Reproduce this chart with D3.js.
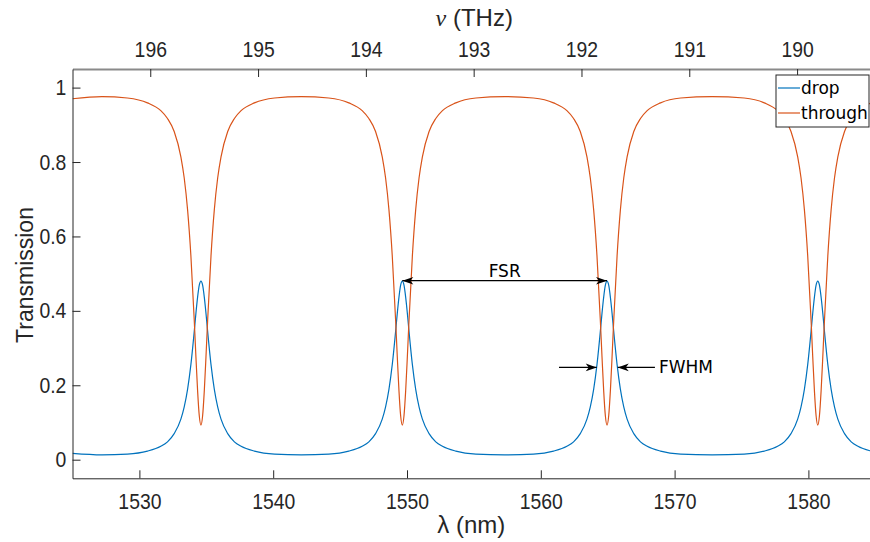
<!DOCTYPE html>
<html>
<head>
<meta charset="utf-8">
<title>Ring resonator transmission</title>
<script src="https://d3js.org/d3.v7.min.js"></script>
<style>
  body { margin: 0; background: #fff; }
  svg { display: block; }
</style>
</head>
<body>
<svg id="chart" width="870" height="542"></svg>
<script>
// wavelength samples (nm), one row per resonance
var wavelength = [
  1525, 1527.2,
  1529.1, 1530.6, 1531.6, 1532.1, 1532.6, 1533.1, 1533.35, 1533.6, 1533.85, 1534.1, 1534.225, 1534.35, 1534.475, 1534.6,
  1534.725, 1534.85, 1534.975, 1535.1, 1535.35, 1535.6, 1535.85, 1536.1, 1536.6, 1537.1, 1537.6, 1538.6, 1540.1,
  1542.1,
  1544.15, 1545.65, 1546.65, 1547.15, 1547.65, 1548.15, 1548.4, 1548.65, 1548.9, 1549.15, 1549.275, 1549.4, 1549.525, 1549.65,
  1549.775, 1549.9, 1550.025, 1550.15, 1550.4, 1550.65, 1550.9, 1551.15, 1551.65, 1552.15, 1552.65, 1553.65, 1555.15,
  1557.3,
  1559.45, 1560.95, 1561.95, 1562.45, 1562.95, 1563.45, 1563.7, 1563.95, 1564.2, 1564.45, 1564.575, 1564.7, 1564.825, 1564.95,
  1565.075, 1565.2, 1565.325, 1565.45, 1565.7, 1565.95, 1566.2, 1566.45, 1566.95, 1567.45, 1567.95, 1568.95, 1570.45,
  1572.8,
  1575.2, 1576.7, 1577.7, 1578.2, 1578.7, 1579.2, 1579.45, 1579.7, 1579.95, 1580.2, 1580.325, 1580.45, 1580.575, 1580.7,
  1580.825, 1580.95, 1581.075, 1581.2, 1581.45, 1581.7, 1581.95, 1582.2, 1582.7, 1583.2, 1583.7, 1584.7, 1586.2
];

var drop = [
  0.017, 0.013,
  0.015, 0.023, 0.036, 0.048, 0.070, 0.109, 0.142, 0.189, 0.256, 0.345, 0.394, 0.437, 0.469, 0.480,
  0.469, 0.437, 0.394, 0.345, 0.256, 0.189, 0.142, 0.109, 0.070, 0.048, 0.036, 0.023, 0.015,
  0.013,
  0.015, 0.023, 0.036, 0.048, 0.070, 0.109, 0.142, 0.189, 0.256, 0.345, 0.394, 0.437, 0.469, 0.480,
  0.469, 0.437, 0.394, 0.345, 0.256, 0.189, 0.142, 0.109, 0.070, 0.048, 0.036, 0.023, 0.015,
  0.013,
  0.015, 0.023, 0.036, 0.048, 0.070, 0.109, 0.142, 0.189, 0.256, 0.345, 0.394, 0.437, 0.469, 0.480,
  0.469, 0.437, 0.394, 0.345, 0.256, 0.189, 0.142, 0.109, 0.070, 0.048, 0.036, 0.023, 0.015,
  0.013,
  0.015, 0.023, 0.036, 0.048, 0.070, 0.109, 0.142, 0.189, 0.256, 0.345, 0.394, 0.437, 0.469, 0.480,
  0.469, 0.437, 0.394, 0.345, 0.256, 0.189, 0.142, 0.109, 0.070, 0.048, 0.036, 0.023, 0.015
];

var through = [
  0.970, 0.976,
  0.972, 0.959, 0.938, 0.917, 0.882, 0.814, 0.757, 0.672, 0.547, 0.374, 0.276, 0.185, 0.118, 0.093,
  0.118, 0.185, 0.276, 0.374, 0.547, 0.672, 0.757, 0.814, 0.882, 0.917, 0.938, 0.959, 0.972,
  0.976,
  0.972, 0.959, 0.938, 0.917, 0.882, 0.814, 0.757, 0.672, 0.547, 0.374, 0.276, 0.185, 0.118, 0.093,
  0.118, 0.185, 0.276, 0.374, 0.547, 0.672, 0.757, 0.814, 0.882, 0.917, 0.938, 0.959, 0.972,
  0.976,
  0.972, 0.959, 0.938, 0.917, 0.882, 0.814, 0.757, 0.672, 0.547, 0.374, 0.276, 0.185, 0.118, 0.093,
  0.118, 0.185, 0.276, 0.374, 0.547, 0.672, 0.757, 0.814, 0.882, 0.917, 0.938, 0.959, 0.972,
  0.976,
  0.972, 0.959, 0.938, 0.917, 0.882, 0.814, 0.757, 0.672, 0.547, 0.374, 0.276, 0.185, 0.118, 0.093,
  0.118, 0.185, 0.276, 0.374, 0.547, 0.672, 0.757, 0.814, 0.882, 0.917, 0.938, 0.959, 0.972
];

var seriesNames = ["drop", "through"];
var seriesColors = ["#0072BD", "#D95319"];

var lambdaTicks = [1530, 1540, 1550, 1560, 1570, 1580];
var nuTicks = [196, 195, 194, 193, 192, 191, 190];
var yTicks = [0, 0.2, 0.4, 0.6, 0.8, 1];

// annotations: FSR between two drop peaks, FWHM of one peak
var fsrEnds = [1549.65, 1564.95];
var fsrLevel = 0.481;
var fwhmEnds = [1564.18, 1565.75];
var fwhmTails = [1561.36, 1568.53];
var fwhmLevel = 0.248;

var svg = d3.select("#chart");
// note: "top" is taken by window.top, so use other names
var plotL = 72.5, plotR = 875.3, plotT = 69, plotB = 478.3;

var x = d3.scaleLinear().domain([1525, 1585]).range([plotL, plotR]);
// top axis: frequency with c = 3e5 nm*THz
var xNu = d3.scaleLinear().domain([3e5 / 1525, 3e5 / 1585]).range([plotL, plotR]);
var y = d3.scaleLinear().domain([-0.05, 1.05]).range([plotB, plotT]);

var tickFont = "'Liberation Sans', Arial, sans-serif";
var annoFont = "'DejaVu Sans', sans-serif";
var squeeze = "scale(0.88,1)";   // tick labels in the figure are a bit narrow

svg.append("defs").append("clipPath").attr("id", "plotclip")
  .append("rect").attr("x", plotL).attr("y", plotT).attr("width", plotR - plotL).attr("height", plotB - plotT);

// curves
var pts = wavelength.map(function(w, i) { return {w: w, d: drop[i], t: through[i]}; });
seriesNames.forEach(function(name, k) {
  var line = d3.line()
    .x(function(p) { return x(p.w); })
    .y(function(p) { return y(k == 0 ? p.d : p.t); })
    .curve(d3.curveMonotoneX);
  svg.append("path")
    .datum(pts)
    .attr("clip-path", "url(#plotclip)")
    .attr("fill", "none")
    .attr("stroke", seriesColors[k])
    .attr("stroke-width", 1.2)
    .attr("d", line);
});

// axes (MATLAB style: ticks pointing inside)
var gBottom = svg.append("g").attr("transform", "translate(0," + plotB + ")")
  .call(d3.axisBottom(x).tickValues(lambdaTicks).tickSizeInner(-8).tickSizeOuter(0).tickPadding(15).tickFormat(d3.format("d")));
var gTop = svg.append("g").attr("transform", "translate(0," + plotT + ")")
  .call(d3.axisTop(xNu).tickValues(nuTicks).tickSizeInner(-8).tickSizeOuter(0).tickPadding(12).tickFormat(d3.format("d")));
var gLeft = svg.append("g").attr("transform", "translate(" + plotL + ",0)")
  .call(d3.axisLeft(y).tickValues(yTicks).tickSizeInner(-8).tickSizeOuter(0).tickPadding(7).tickFormat(d3.format("")));

[gBottom, gTop, gLeft].forEach(function(g) {
  g.selectAll("text")
    .attr("fill", "#262626")
    .attr("transform", squeeze)
    .style("font-family", tickFont)
    .style("font-size", "22px");
  g.selectAll(".tick line").attr("stroke", "#262626");
  g.select(".domain").attr("stroke", "#262626");
});
gTop.select(".domain").attr("stroke", "#8a8a8a").attr("stroke-width", 2);

// axis titles
svg.append("text")
  .attr("x", (plotL + 870) / 2).attr("y", 533)
  .attr("text-anchor", "middle")
  .attr("fill", "#262626")
  .style("font-family", tickFont).style("font-size", "24px")
  .text("\u03bb (nm)");
var nuTitle = svg.append("text")
  .attr("x", (plotL + 870) / 2 + 3).attr("y", 26)
  .attr("text-anchor", "middle")
  .attr("fill", "#262626")
  .style("font-family", tickFont).style("font-size", "24px");
nuTitle.append("tspan").style("font-family", "'Liberation Serif', serif").style("font-style", "italic").text("\u03bd");
nuTitle.append("tspan").text(" (THz)");
svg.append("text")
  .attr("transform", "translate(33,275) rotate(-90)")
  .attr("text-anchor", "middle")
  .attr("fill", "#262626")
  .style("font-family", tickFont).style("font-size", "23px")
  .text("Transmission");

// arrow heads
function arrowHead(px, py, dir) {
  var p = [[0, 0], [-11, -3.8], [-8, 0], [-11, 3.8]].map(function(q) { return [px + dir * q[0], py + q[1]]; });
  svg.append("path")
    .attr("d", "M" + p.join("L") + "Z")
    .attr("fill", "#000");
}

// FSR
var fy = y(fsrLevel);
svg.append("line")
  .attr("x1", x(fsrEnds[0])).attr("x2", x(fsrEnds[1]))
  .attr("y1", fy).attr("y2", fy)
  .attr("stroke", "#000").attr("stroke-width", 1.2);
arrowHead(x(fsrEnds[0]), fy, -1);
arrowHead(x(fsrEnds[1]), fy, 1);
svg.append("text")
  .attr("x", (x(fsrEnds[0]) + x(fsrEnds[1])) / 2).attr("y", fy - 4)
  .attr("text-anchor", "middle")
  .style("font-family", annoFont).style("font-size", "17px")
  .text("FSR");

// FWHM
var wy = y(fwhmLevel);
svg.append("line")
  .attr("x1", x(fwhmTails[0])).attr("x2", x(fwhmEnds[0]))
  .attr("y1", wy).attr("y2", wy)
  .attr("stroke", "#000").attr("stroke-width", 1.2);
arrowHead(x(fwhmEnds[0]), wy, 1);
svg.append("line")
  .attr("x1", x(fwhmTails[1])).attr("x2", x(fwhmEnds[1]))
  .attr("y1", wy).attr("y2", wy)
  .attr("stroke", "#000").attr("stroke-width", 1.2);
arrowHead(x(fwhmEnds[1]), wy, -1);
svg.append("text")
  .attr("x", x(fwhmTails[1]) + 4).attr("y", wy + 6)
  .style("font-family", annoFont).style("font-size", "17px")
  .text("FWHM");

// legend
var lg = svg.append("g").attr("transform", "translate(776,75)");
lg.append("rect")
  .attr("width", 93).attr("height", 52)
  .attr("fill", "#fff").attr("stroke", "#262626").attr("stroke-width", 1);
seriesNames.forEach(function(name, k) {
  var ly = 13 + k * 25;
  lg.append("line")
    .attr("x1", 2).attr("x2", 24).attr("y1", ly).attr("y2", ly)
    .attr("stroke", seriesColors[k]).attr("stroke-width", 1.2);
  lg.append("text")
    .attr("x", 25).attr("y", ly + 6)
    .attr("fill", "#000")
    .style("font-family", annoFont).style("font-size", "17px")
    .text(name);
});
</script>
</body>
</html>
